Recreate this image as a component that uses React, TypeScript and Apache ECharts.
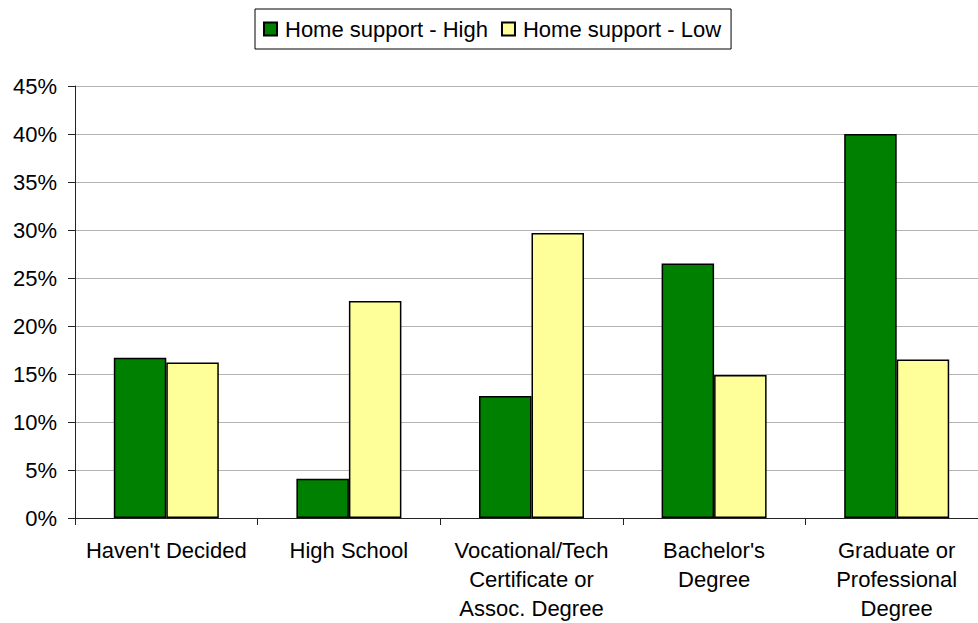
import React, { useEffect, useRef } from "react";
import * as echarts from "echarts";

const categories = [
  "Haven't Decided",
  "High School",
  "Vocational/Tech\nCertificate or\nAssoc. Degree",
  "Bachelor's\nDegree",
  "Graduate or\nProfessional\nDegree",
];
const seriesNames = ["Home support - High", "Home support - Low"];
const highValues = [16.7, 4.1, 12.7, 26.5, 40.0];
const lowValues = [16.2, 22.6, 29.7, 14.9, 16.5];
const yMin = 0;
const yMax = 45;
const yInterval = 5;

const FONT = "'Liberation Sans', Arial, sans-serif";

export default function App() {
  const ref = useRef<HTMLDivElement>(null);
  useEffect(() => {
    document.body.style.margin = "0";
    if (!ref.current) return;
    const chart = echarts.init(ref.current, undefined, { renderer: "svg" });
    chart.setOption({
      animation: false,
      backgroundColor: "#ffffff",
      textStyle: { fontFamily: FONT, color: "#000" },
      legend: {
        left: 255,
        top: 9,
        itemWidth: 13,
        itemHeight: 13,
        itemGap: 13,
        icon: "rect",
        borderColor: "#000",
        borderWidth: 1,
        padding: [9, 10, 9, 8],
        textStyle: { fontSize: 22, fontFamily: FONT, color: "#000", padding: [0, 0, 0, 3] },
        data: seriesNames,
      },
      grid: { left: 75, top: 86, right: 0, bottom: 101, containLabel: false },
      xAxis: {
        type: "category",
        data: categories,
        axisLine: { lineStyle: { color: "#222", width: 1 } },
        axisTick: { show: true, length: 7, lineStyle: { color: "#222" } },
        axisLabel: {
          interval: 0,
          margin: 18,
          fontSize: 22,
          lineHeight: 29,
          color: "#000",
          fontFamily: FONT,
        },
        splitLine: { show: false },
      },
      yAxis: {
        type: "value",
        min: yMin,
        max: yMax,
        interval: yInterval,
        axisLine: { show: true, lineStyle: { color: "#222", width: 1 } },
        axisTick: { show: true, length: 7, lineStyle: { color: "#222" } },
        axisLabel: {
          formatter: "{value}%",
          margin: 18,
          fontSize: 22,
          color: "#000",
          fontFamily: FONT,
        },
        splitLine: { show: true, lineStyle: { color: "#b4b4b4", width: 1 } },
      },
      series: [
        {
          name: seriesNames[0],
          type: "bar",
          data: highValues,
          barGap: "0%",
          barCategoryGap: "42.5%",
          itemStyle: { color: "#008000", borderColor: "#000", borderWidth: 1.5 },
        },
        {
          name: seriesNames[1],
          type: "bar",
          data: lowValues,
          barGap: "0%",
          barCategoryGap: "42.5%",
          itemStyle: { color: "#FFFF99", borderColor: "#000", borderWidth: 1.5 },
        },
      ],
    });
    return () => chart.dispose();
  }, []);
  return (
    <div style={{ width: 978, height: 623, overflow: "hidden", position: "relative" }}>
      <div ref={ref} style={{ width: 988, height: 623 }} />
    </div>
  );
}
